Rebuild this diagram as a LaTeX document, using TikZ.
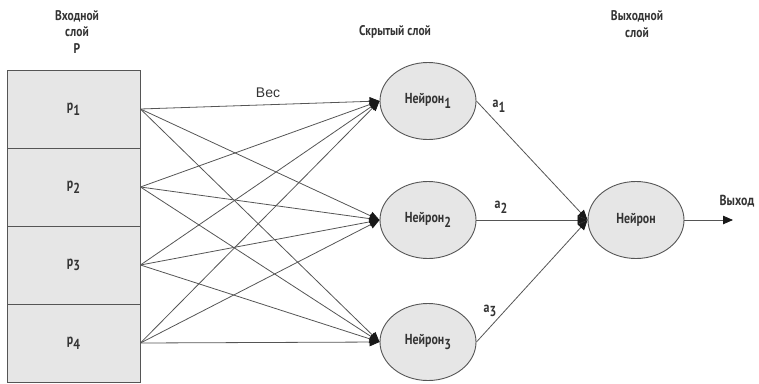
\documentclass[tikz,border=0pt]{standalone}
\usepackage{fontspec}
\setmainfont{PT Sans}
\newfontfamily\condfont{PT Sans}[FakeStretch=0.82]
\newfontfamily\wtfont{Liberation Sans}
\usetikzlibrary{shapes.geometric,arrows.meta}
\definecolor{ink}{HTML}{333333}
\definecolor{edge}{HTML}{555555}
\definecolor{cellfill}{HTML}{E6E6E6}
\newcommand{\lowsub}[1]{\raisebox{-0.32em}{\fontsize{14.5}{14.5}\selectfont #1}}
\begin{document}
\begin{tikzpicture}[x=1pt,y=-1pt,
  every node/.style={text=ink, font=\condfont\bfseries\fontsize{14.5}{17}\selectfont},
  cell/.style={draw=edge, line width=0.9pt, fill=cellfill, minimum width=133pt, minimum height=78pt, inner sep=0pt},
  neuron/.style={ellipse, draw=edge, line width=0.9pt, fill=cellfill, minimum width=96pt, minimum height=77pt, inner sep=0pt},
  conn/.style={draw=edge, line width=0.8pt, -{Stealth[length=10pt,width=8.5pt,inset=0pt,color=black!90]}},
  title/.style={align=center, font=\condfont\bfseries\fontsize{14}{16.5}\selectfont}
]
\useasboundingbox (0,0) rectangle (759,383);

% layer captions
\node[title] (tin) at (77,32) {Входной\\слой\\P};
\node[title] (thid) at (395,32) {Скрытый слой};
\node[title] (tout) at (637,24) {Выходной\\слой};

% input vector
\node[cell] (p1) at (73.5,109) {p\lowsub{1}};
\node[cell] (p2) at (73.5,187) {p\lowsub{2}};
\node[cell] (p3) at (73.5,265) {p\lowsub{3}};
\node[cell] (p4) at (73.5,343) {p\lowsub{4}};

% hidden and output neurons
\node[neuron] (n1) at (428,101) {Нейрон\lowsub{1}};
\node[neuron] (n2) at (428,220) {Нейрон\lowsub{2}};
\node[neuron] (n3) at (428,342) {Нейрон\lowsub{3}};
\node[neuron] (out) at (636,220) {Нейрон};

% weighted connections
\foreach \i in {1,...,4}
  \foreach \j in {1,2,3}
    \draw[conn] (p\i.east) -- (n\j.west);

\node[font=\wtfont\fontsize{14}{16}\selectfont] (wlbl) at (268,93) {Вес};

% hidden outputs to output neuron
\draw[conn] (n1.east) -- (out.west);
\draw[conn] (n2.east) -- (out.west);
\draw[conn] (n3.east) -- (out.west);

\node (a1) at (499,106) {a\lowsub{1}};
\node (a2) at (501,207) {a\lowsub{2}};
\node (a3) at (490,311) {a\lowsub{3}};

% network output
\coordinate (yend) at (733,220);
\draw[conn] (out.east) -- (yend);
\node (ylbl) at (737,201) {Выход};
\end{tikzpicture}
\end{document}
